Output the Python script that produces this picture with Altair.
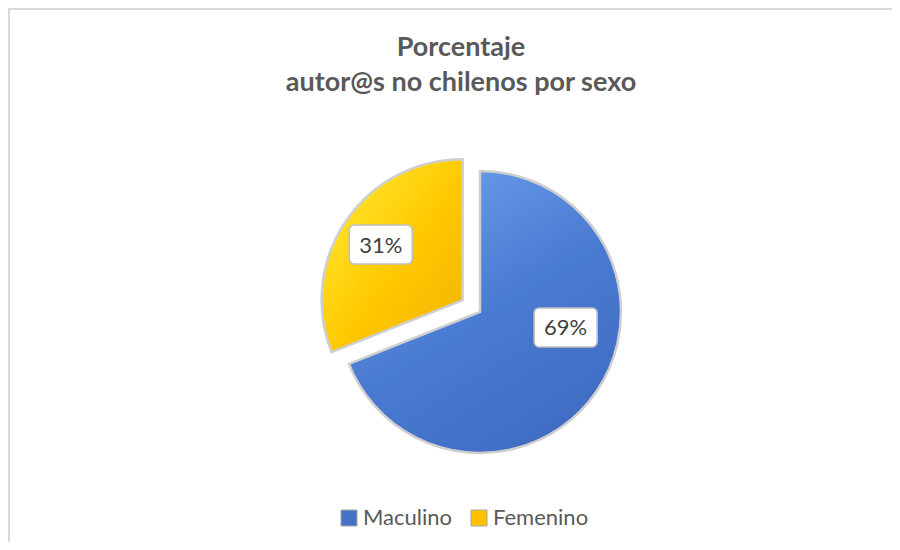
import math
import altair as alt
import pandas as pd

categories = ["Maculino", "Femenino"]
values = [69, 31]
labels = ["69%", "31%"]

# style / layout constants (pixels inside the view)
W, H = 884, 534
CX, CY = 472, 304
R = 141
EXPLODE = [0, 21]
LABEL_R = [87, 99]
LABEL_SHIFT_DEG = [-24, 0]
FILLS = [
    alt.Gradient(gradient="linear", x1=0.2, y1=0, x2=0.8, y2=1,
                 stops=[alt.GradientStop(color="#6E9EEB", offset=0),
                        alt.GradientStop(color="#4A7BD2", offset=0.5),
                        alt.GradientStop(color="#3E6BC0", offset=1)]),
    alt.Gradient(gradient="linear", x1=0, y1=0, x2=1, y2=1,
                 stops=[alt.GradientStop(color="#FFEF3A", offset=0),
                        alt.GradientStop(color="#FFC800", offset=0.55),
                        alt.GradientStop(color="#F2B200", offset=1)]),
]
SOLID = ["#4472C4", "#FFC000"]

df = pd.DataFrame({"category": categories, "value": values, "label": labels})
total = sum(values)

base = alt.Chart(df).transform_calculate(
    order=f"indexof({categories!r}, datum.category)"
).transform_window(
    cum="sum(value)", sort=[alt.SortField("order")]
).transform_calculate(
    start=f"(datum.cum - datum.value) / {total} * 2 * PI",
    end=f"datum.cum / {total} * 2 * PI",
)

layers = []
# border (top + left only, rest is outside the picture)
layers.append(alt.Chart(df).mark_rule(color="#D9D9D9", strokeWidth=2).encode(
    x=alt.value(0), x2=alt.value(W), y=alt.value(1)))
layers.append(alt.Chart(df).mark_rule(color="#D9D9D9", strokeWidth=2).encode(
    x=alt.value(1), y=alt.value(0), y2=alt.value(H)))

# invisible layer providing the legend
layers.append(base.mark_arc(opacity=0).encode(
    theta=alt.Theta("start:Q", scale=None),
    theta2="end:Q",
    x=alt.value(CX), y=alt.value(CY),
    color=alt.Color("category:N",
                    scale=alt.Scale(domain=categories, range=SOLID),
                    sort=categories,
                    legend=alt.Legend(title=None, orient="none", direction="horizontal",
                                      legendX=330, legendY=499, symbolType="square",
                                      symbolSize=256, symbolOpacity=1,
                                      symbolStrokeColor="#A6A6A6", symbolStrokeWidth=1,
                                      labelFont="Lato", labelFontSize=22,
                                      labelColor="#595959", labelOffset=3,
                                      columnPadding=15, padding=0)),
))

cum = 0
for i, cat in enumerate(categories):
    mid = (cum + values[i] / 2) / total * 2 * math.pi
    cum += values[i]
    cx = CX + EXPLODE[i] * math.sin(mid)
    cy = CY - EXPLODE[i] * math.cos(mid)
    la = mid + math.radians(LABEL_SHIFT_DEG[i])
    lx = cx + LABEL_R[i] * math.sin(la)
    ly = cy - LABEL_R[i] * math.cos(la)
    sl = base.transform_filter(alt.datum.category == cat)
    layers.append(sl.mark_arc(fill=FILLS[i], stroke="#CFCFCF", strokeWidth=2.5,
                              outerRadius=R).encode(
        theta=alt.Theta("start:Q", scale=None),
        theta2="end:Q",
        x=alt.value(cx), y=alt.value(cy),
    ))
    box_path = ("M -1.26 -0.93 L 1.26 -0.93 A 0.24 0.24 0 0 1 1.5 -0.69 "
                "L 1.5 0.69 A 0.24 0.24 0 0 1 1.26 0.93 L -1.26 0.93 "
                "A 0.24 0.24 0 0 1 -1.5 0.69 L -1.5 -0.69 "
                "A 0.24 0.24 0 0 1 -1.26 -0.93 Z")
    layers.append(sl.mark_point(shape=box_path, filled=True, fill="white",
                                stroke="#BFBFBF", strokeWidth=1.5, opacity=1,
                                size=1764).encode(
        x=alt.value(lx), y=alt.value(ly)))
    layers.append(sl.mark_text(font="Lato", fontSize=22, color="#404040",
                               align="center", baseline="middle", dy=1).encode(
        x=alt.value(lx), y=alt.value(ly), text="label:N"))

chart = alt.layer(*layers).properties(
    width=W, height=H,
    autosize=alt.AutoSizeParams(type="none"),
    padding=0,
    title=alt.TitleParams(
        text=["Porcentaje", "autor@s no chilenos por sexo"],
        font="Lato", fontSize=27, fontWeight="bold", color="#595959",
        anchor="middle", frame="group", orient="top",
        baseline="alphabetic", lineHeight=35, offset=-111, dx=11,
    ),
).configure_view(stroke=None).configure(background="white")

chart.save("out.html", embed_options={"renderer": "svg", "actions": False})
